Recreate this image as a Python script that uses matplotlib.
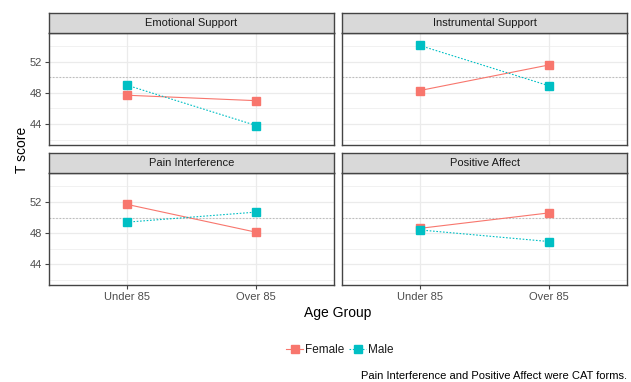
import matplotlib.pyplot as plt
from matplotlib.lines import Line2D

plt.rcParams['font.family'] = ['Liberation Sans', 'DejaVu Sans']

panels = ['Emotional Support', 'Instrumental Support', 'Pain Interference', 'Positive Affect']
age_groups = ['Under 85', 'Over 85']
female = {
    'Emotional Support': [47.7, 47.0],
    'Instrumental Support': [48.3, 51.6],
    'Pain Interference': [51.7, 48.1],
    'Positive Affect': [48.6, 50.6],
}
male = {
    'Emotional Support': [49.0, 43.8],
    'Instrumental Support': [54.1, 48.9],
    'Pain Interference': [49.4, 50.7],
    'Positive Affect': [48.4, 46.9],
}
y_ticks = [44, 48, 52]
y_minor = [42, 46, 50, 54]
reference_line = 50

female_col = '#F8766D'
male_col = '#00BFC4'
grid_col = '#EBEBEB'
text_col = '#4D4D4D'

W, H = 631, 382
fig = plt.figure(figsize=(W / 100, H / 100), dpi=100)

# panel boxes in pixels: (left, top of strip, strip bottom, panel bottom)
lefts = [49, 342]
rows = [(12.7, 33.0, 145.0), (152.7, 173.3, 285.0)]
pw = 285

for i, name in enumerate(panels):
    r, c = divmod(i, 2)
    x0 = lefts[c]
    st, sb, pb = rows[r]
    ax = fig.add_axes([x0 / W, 1 - pb / H, pw / W, (pb - sb) / H])
    strip = fig.add_axes([x0 / W, 1 - sb / H, pw / W, (sb - st) / H])

    xs = list(range(1, len(age_groups) + 1))
    ax.axhline(reference_line, color='#BDBDBD', ls=(0, (1.5, 1.5)), lw=0.8, zorder=1)
    ax.plot(xs, female[name], color=female_col, lw=0.8, ls='-',
            marker='s', ms=5.8, zorder=3)
    ax.plot(xs, male[name], color=male_col, lw=0.8, ls=(0, (1.5, 1.5)),
            marker='s', ms=5.8, zorder=3)

    ax.set_xlim(0.4, 2.6)
    ax.set_ylim(41.3, 55.7)
    ax.set_xticks(xs)
    ax.set_yticks(y_ticks)
    ax.set_yticks(y_minor, minor=True)
    ax.grid(True, which='major', color=grid_col, lw=0.9, zorder=0)
    ax.grid(True, which='minor', axis='y', color=grid_col, lw=0.5, zorder=0)
    ax.set_axisbelow(True)
    for sp in ax.spines.values():
        sp.set_color('#444444')
        sp.set_linewidth(1.0)
    ax.tick_params(which='both', color='#444444', length=3, width=0.8,
                   labelsize=8, labelcolor=text_col, pad=2)
    ax.tick_params(which='minor', length=0)
    if r == 1:
        ax.set_xticklabels(age_groups)
    else:
        ax.tick_params(axis='x', length=0, labelbottom=False)
    if c == 1:
        ax.tick_params(axis='y', length=0, labelleft=False)

    strip.set_facecolor('#D9D9D9')
    strip.set_xticks([])
    strip.set_yticks([])
    for sp in strip.spines.values():
        sp.set_color('#444444')
        sp.set_linewidth(1.0)
    strip.text(0.5, 0.5, name, ha='center', va='center', fontsize=8,
               color='#1A1A1A', transform=strip.transAxes)

fig.text(22 / W, 1 - 150 / H, 'T score', rotation=90, ha='center', va='center',
         fontsize=10, color='black')
fig.text(338 / W, 1 - 313 / H, 'Age Group', ha='center', va='center',
         fontsize=10, color='black')

handles = [
    Line2D([], [], color=female_col, lw=0.8, ls='-', marker='s', ms=5.5),
    Line2D([], [], color=male_col, lw=0.8, ls=(0, (1.5, 1.5)), marker='s', ms=5.5),
]
fig.legend(handles, ['Female', 'Male'], loc='center', bbox_to_anchor=(340 / W, 1 - 350 / H),
           ncol=2, frameon=False, fontsize=8.5, handlelength=1.4, handletextpad=0.2,
           columnspacing=0.4, labelcolor='#1A1A1A')

fig.text(627 / W, 1 - 376 / H, 'Pain Interference and Positive Affect were CAT forms.',
         ha='right', va='center', fontsize=8, color='black')

fig.savefig('out.png', dpi=100)
